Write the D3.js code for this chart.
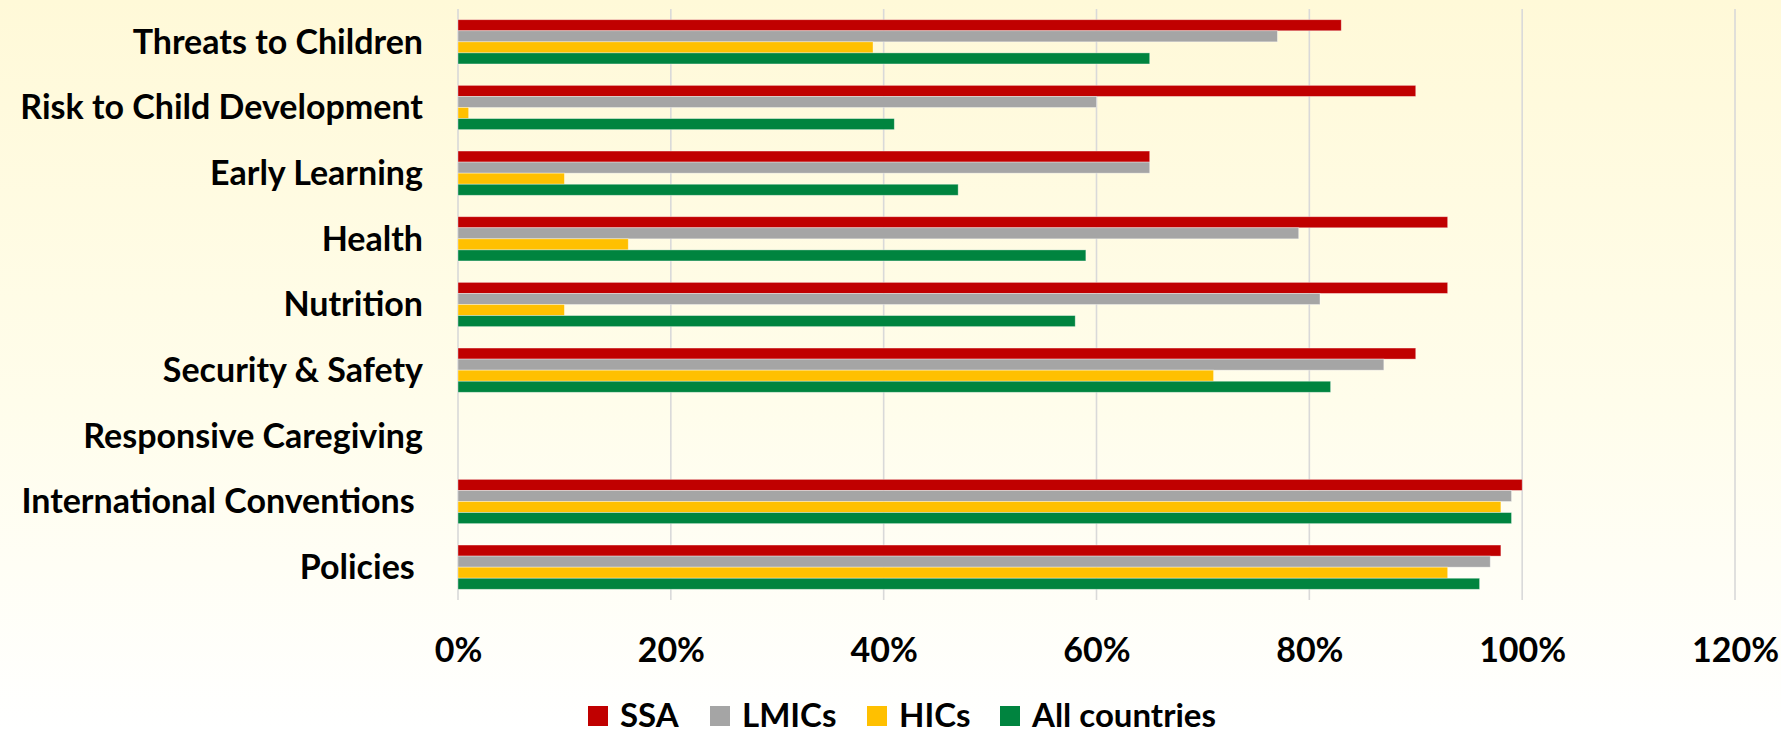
<!DOCTYPE html>
<html>
<head>
<meta charset="utf-8">
<script src="https://cdnjs.cloudflare.com/ajax/libs/d3/7.8.5/d3.min.js"></script>
<style>
    body { margin: 0; padding: 0; background: #fff; }
    #chartDiv { width: 1781px; height: 730px; }
    text { font-family: Lato, "Open Sans", sans-serif; font-weight: bold; fill: #000; }
</style>
</head>
<body>
<div id="chartDiv"></div>
<script>
    // Data
    var categories = ['Threats to Children', 'Risk to Child Development', 'Early Learning', 'Health',
                      'Nutrition', 'Security & Safety', 'Responsive Caregiving', 'International Conventions ', 'Policies '];
    var seriesNames = ['SSA', 'LMICs', 'HICs', 'All countries'];
    var seriesColors = ['#C00000', '#A5A5A5', '#FFC000', '#00843F'];
    var ssa          = [83, 90, 65, 93, 93, 90, null, 100, 98];
    var lmics        = [77, 60, 65, 79, 81, 87, null, 99, 97];
    var hics         = [39, 1, 10, 16, 10, 71, null, 98, 93];
    var allCountries = [65, 41, 47, 59, 58, 82, null, 99, 96];
    var tickValues = [0, 0.2, 0.4, 0.6, 0.8, 1.0, 1.2];

    var svgWidth = 1781;
    var svgHeight = 730;

    var seriesValues = [ssa, lmics, hics, allCountries];

    var svg = d3.select('#chartDiv')
                .append('svg')
                .attr('width', svgWidth)
                .attr('height', svgHeight);

    // Light yellow background fading to white towards the bottom
    var defs = svg.append('defs');
    var grad = defs.append('linearGradient')
                   .attr('id', 'bgGrad')
                   .attr('x1', 0).attr('y1', 0)
                   .attr('x2', 0).attr('y2', 1);
    grad.append('stop').attr('offset', '0%').attr('stop-color', '#FFF9D8');
    grad.append('stop').attr('offset', '55%').attr('stop-color', '#FFFDEB');
    grad.append('stop').attr('offset', '100%').attr('stop-color', '#FFFFFF');

    svg.append('rect')
       .attr('width', svgWidth)
       .attr('height', svgHeight)
       .attr('fill', 'url(#bgGrad)');

    // Scales
    var x = d3.scaleLinear()
              .domain([0, 1.2])
              .range([458, 1735]);

    var y = d3.scaleBand()
              .domain(categories)
              .range([9, 600])
              .paddingInner(0.326)
              .paddingOuter(0.163);

    var ySub = d3.scaleBand()
                 .domain(d3.range(seriesNames.length))
                 .range([0, y.bandwidth()]);

    // Vertical gridlines
    svg.selectAll('.grid')
       .data(tickValues)
       .enter()
       .append('line')
       .attr('class', 'grid')
       .attr('x1', function(d) { return x(d); })
       .attr('x2', function(d) { return x(d); })
       .attr('y1', 9)
       .attr('y2', 600)
       .attr('stroke', '#D9D9D9')
       .attr('stroke-width', 1.6);

    // Bars, one group per category
    var groups = svg.selectAll('.group')
                    .data(categories)
                    .enter()
                    .append('g')
                    .attr('class', 'group')
                    .attr('transform', function(d) { return 'translate(0,' + y(d) + ')'; });

    groups.selectAll('rect')
          .data(function(d, i) {
              return seriesValues.map(function(s, j) { return { series: j, value: s[i] }; })
                                 .filter(function(e) { return e.value !== null; });
          })
          .enter()
          .append('rect')
          .attr('x', x(0))
          .attr('y', function(d) { return ySub(d.series); })
          .attr('width', function(d) { return x(d.value / 100) - x(0); })
          .attr('height', ySub.bandwidth())
          .attr('fill', function(d) { return seriesColors[d.series]; })
          .attr('stroke', 'rgba(255,255,255,0.45)')
          .attr('stroke-width', 0.8);

    // Category labels
    svg.selectAll('.catLabel')
       .data(categories)
       .enter()
       .append('text')
       .attr('class', 'catLabel')
       .attr('x', 423)
       .attr('y', function(d) { return y(d) + y.bandwidth() / 2; })
       .attr('dy', '0.35em')
       .attr('text-anchor', 'end')
       .style('white-space', 'pre')
       .style('font-size', '34px')
       .text(function(d) { return d; });

    // X axis labels
    var xAxis = d3.axisBottom(x)
                  .tickValues(tickValues)
                  .tickFormat(d3.format('.0%'))
                  .tickSize(0)
                  .tickPadding(0);

    var axisG = svg.append('g')
                   .attr('transform', 'translate(0,638)')
                   .call(xAxis);
    axisG.select('.domain').remove();
    axisG.selectAll('text')
         .style('font-size', '34px')
         .attr('dy', '0.71em');

    // Legend
    var legendX = [588, 710, 867, 1000];
    var legend = svg.selectAll('.legend')
                    .data(seriesNames)
                    .enter()
                    .append('g')
                    .attr('class', 'legend')
                    .attr('transform', function(d, i) { return 'translate(' + legendX[i] + ',706)'; });

    legend.append('rect')
          .attr('width', 20)
          .attr('height', 20)
          .attr('fill', function(d, i) { return seriesColors[i]; });

    legend.append('text')
          .attr('x', 32)
          .attr('y', 21)
          .style('font-size', '33px')
          .text(function(d) { return d; });
</script>
</body>
</html>
